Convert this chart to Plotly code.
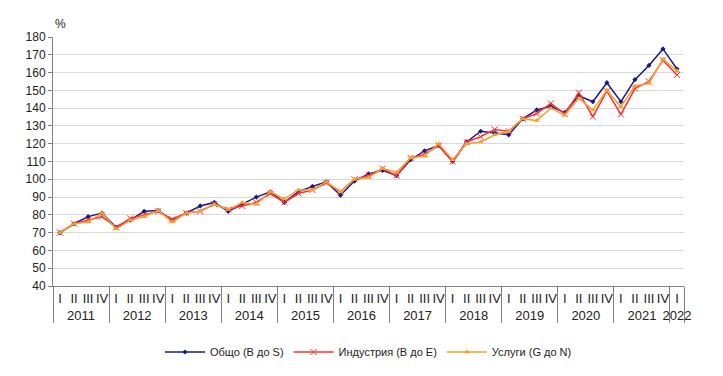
import plotly.graph_objects as go

years = ["2011"] * 4 + ["2012"] * 4 + ["2013"] * 4 + ["2014"] * 4 + ["2015"] * 4 + \
        ["2016"] * 4 + ["2017"] * 4 + ["2018"] * 4 + ["2019"] * 4 + ["2020"] * 4 + \
        ["2021"] * 4 + ["2022"]
quarters = ["I", "II", "III", "IV"] * 11 + ["I"]

obshto = [70, 75, 79, 81,
          73, 77, 82, 82.5,
          77, 81, 85, 87,
          82, 86, 90, 93,
          87, 93, 96, 98.5,
          91, 99, 103, 105,
          102, 111, 116, 119,
          110, 121, 127, 126,
          125, 134, 139, 141,
          137.5, 147, 143.6, 154.3,
          143.6, 156, 164, 173.3,
          162]
industria = [70, 75, 77, 79,
             73, 78, 80, 82,
             77.5, 81, 82, 86,
             83, 85, 87, 92,
             87, 92, 94, 98,
             93, 100, 102, 106,
             102, 112, 114, 119,
             110, 121, 124, 128,
             127, 134, 137, 142.7,
             136.7, 148.7, 135.2, 149.6,
             136.5, 151, 155, 167,
             158.6]
uslugi = [70, 75, 76, 81,
          72, 77, 79, 82.5,
          76, 81, 82, 86,
          83, 87, 86, 93,
          89, 94, 94, 98.5,
          93, 100, 101, 106,
          104, 112, 113, 120,
          111, 120, 121, 125,
          127, 134, 133, 140,
          136, 145.5, 139, 150,
          140.8, 152.5, 154, 167.5,
          161]

x = [years, quarters]
n = len(quarters)

fig = go.Figure()
fig.add_trace(go.Scatter(x=x, y=obshto, mode="lines+markers", name="Общо (B до S)",
                         line=dict(color="#1a1a80", width=1.5),
                         marker=dict(symbol="diamond", size=4, color="#1a1a80")))
fig.add_trace(go.Scatter(x=x, y=industria, mode="lines+markers", name="Индустрия (B до E)",
                         line=dict(color="#ff3030", width=1.5),
                         marker=dict(symbol="x-thin", size=6, color="#ff3030",
                                     line=dict(color="#ff3030", width=1))))
fig.add_trace(go.Scatter(x=x, y=uslugi, mode="lines+markers", name="Услуги (G до N)",
                         line=dict(color="#f5a030", width=1.5),
                         marker=dict(symbol="triangle-up", size=5, color="#f5a030")))

fig.update_layout(
    width=723, height=376,
    margin=dict(l=53, r=39, t=37, b=90),
    paper_bgcolor="white", plot_bgcolor="white",
    font=dict(family="Liberation Sans, Arial, sans-serif", color="#222222", size=12),
    showlegend=True,
    legend=dict(orientation="h", x=0.5, xanchor="center",
                yref="container", y=(376 - 352) / 376, yanchor="middle",
                font=dict(size=11), itemwidth=40, tracegroupgap=0),
    xaxis=dict(type="multicategory", range=[-0.5, n - 0.5], autorange=False,
               tickmode="linear", tick0=0, dtick=1, automargin=False,
               showgrid=False, showline=True, linecolor="#808080",
               linewidth=1, ticks="outside", ticklen=5, tickcolor="rgba(0,0,0,0)",
               showdividers=True,
               dividercolor="#808080", dividerwidth=1, tickangle=0,
               tickfont=dict(size=13)),
    yaxis=dict(range=[40, 180], dtick=10, showgrid=True, gridcolor="#d9d9d9",
               gridwidth=1, showline=True, linecolor="#808080", linewidth=1,
               ticks="outside", ticklen=4, tickcolor="#808080", zeroline=False,
               automargin=False, tickfont=dict(size=12)),
    annotations=[dict(text="%", xref="paper", yref="paper", x=0.0, y=1.0, xanchor="left",
                      yanchor="bottom", yshift=4, xshift=0, showarrow=False,
                      font=dict(size=12))],
)

fig.write_html("out.html", config={"displayModeBar": False},
               post_script="document.body.style.margin='0';document.body.style.overflow='hidden';")
